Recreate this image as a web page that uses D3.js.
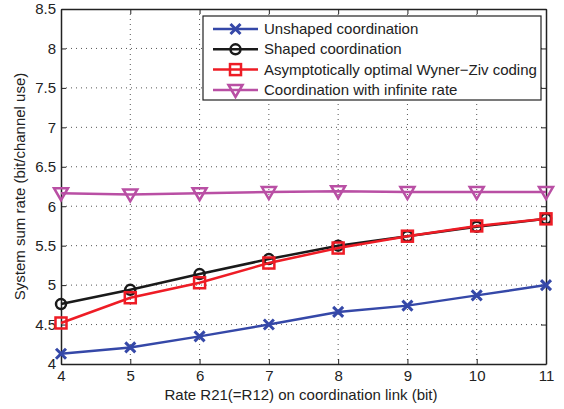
<!DOCTYPE html>
<html>
<head>
<meta charset="utf-8">
<script src="https://cdn.jsdelivr.net/npm/d3@7"></script>
<style>
  body { margin: 0; background: #fff; }
  svg text { font-family: "Liberation Sans", Arial, sans-serif; fill: #222; }
</style>
</head>
<body>
<svg id="chart" width="564" height="409"></svg>
<script>
// rate on the coordination link
const rates = [4, 5, 6, 7, 8, 9, 10, 11];
const unshaped = [4.13, 4.21, 4.35, 4.50, 4.66, 4.74, 4.87, 5.00];
const shaped = [4.76, 4.94, 5.14, 5.33, 5.50, 5.62, 5.74, 5.84];
const wynerZiv = [4.52, 4.84, 5.03, 5.28, 5.47, 5.62, 5.75, 5.84];
const infinite = [6.165, 6.15, 6.165, 6.18, 6.19, 6.18, 6.18, 6.18];
const yTicks = [4, 4.5, 5, 5.5, 6, 6.5, 7, 7.5, 8, 8.5];

const series = [
    {name: "Unshaped coordination", values: unshaped, color: "#3548a8", marker: "x"},
    {name: "Shaped coordination", values: shaped, color: "#1a1a1a", marker: "o"},
    {name: "Asymptotically optimal Wyner\u2212Ziv coding", values: wynerZiv, color: "#ee1c25", marker: "s"},
    {name: "Coordination with infinite rate", values: infinite, color: "#b94fa4", marker: "v"}
];

const svg = d3.select("#chart");
const pLeft = 61, pRight = 546, pTop = 9, pBottom = 364;

const x = d3.scaleLinear().domain([4, 11]).range([pLeft, pRight]);
const y = d3.scaleLinear().domain([4, 8.5]).range([pBottom, pTop]);

// dotted grid
const grid = svg.append("g").attr("stroke", "#555").attr("stroke-width", 1)
    .attr("stroke-dasharray", "1,4");
grid.selectAll(".gx").data(rates.slice(1, -1)).join("line")
    .attr("x1", d => x(d)).attr("x2", d => x(d)).attr("y1", pTop).attr("y2", pBottom);
grid.selectAll(".gy").data(yTicks.slice(1, -1)).join("line")
    .attr("y1", d => y(d)).attr("y2", d => y(d)).attr("x1", pLeft).attr("x2", pRight);

// axes, matlab style: inward ticks on all four sides
const fmt = d3.format("");
const axB = svg.append("g").attr("transform", `translate(0,${pBottom})`)
    .call(d3.axisBottom(x).tickValues(rates).tickFormat(fmt).tickSizeInner(-5).tickSizeOuter(0).tickPadding(6));
const axT = svg.append("g").attr("transform", `translate(0,${pTop})`)
    .call(d3.axisTop(x).tickValues(rates).tickFormat("").tickSizeInner(-5).tickSizeOuter(0));
const axL = svg.append("g").attr("transform", `translate(${pLeft},0)`)
    .call(d3.axisLeft(y).tickValues(yTicks).tickFormat(fmt).tickSizeInner(-5).tickSizeOuter(0).tickPadding(5));
const axR = svg.append("g").attr("transform", `translate(${pRight},0)`)
    .call(d3.axisRight(y).tickValues(yTicks).tickFormat("").tickSizeInner(-5).tickSizeOuter(0));
[axB, axT, axL, axR].forEach(a => {
    a.select(".domain").attr("stroke", "#222").attr("stroke-width", 1.5);
    a.selectAll(".tick line").attr("stroke", "#222");
    a.selectAll("text").attr("font-size", 15).attr("fill", "#222")
        .style("font-family", "Liberation Sans, Arial, sans-serif");
});

svg.append("text").attr("x", 301).attr("y", 400).attr("text-anchor", "middle")
    .attr("font-size", 15).text("Rate R21(=R12) on coordination link (bit)");
svg.append("text").attr("transform", `translate(25,${(pTop + pBottom) / 2}) rotate(-90)`)
    .attr("text-anchor", "middle").attr("font-size", 15).text("System sum rate (bit/channel use)");

function drawMarker(g, type, color) {
    if (type === "x") {
        g.append("path").attr("d", "M-5,-5L5,5M-5,5L5,-5").attr("stroke", color).attr("stroke-width", 3);
    } else if (type === "o") {
        g.append("circle").attr("r", 5).attr("fill", "none").attr("stroke", color).attr("stroke-width", 2.5);
    } else if (type === "s") {
        g.append("rect").attr("x", -5.5).attr("y", -5.5).attr("width", 11).attr("height", 11)
            .attr("fill", "none").attr("stroke", color).attr("stroke-width", 2.5);
    } else {
        g.append("path").attr("d", "M-7,-5L7,-5L0,7Z").attr("fill", "none")
            .attr("stroke", color).attr("stroke-width", 2.5);
    }
}

const line = d3.line().x((d, i) => x(rates[i])).y(d => y(d));
series.forEach(s => {
    svg.append("path").datum(s.values).attr("d", line).attr("fill", "none")
        .attr("stroke", s.color).attr("stroke-width", 2.5);
    s.values.forEach((v, i) => {
        drawMarker(svg.append("g").attr("transform", `translate(${x(rates[i])},${y(v)})`), s.marker, s.color);
    });
});

// legend
const lg = svg.append("g");
lg.append("rect").attr("x", 203).attr("y", 16).attr("width", 338).attr("height", 84)
    .attr("fill", "#fff").attr("stroke", "#222").attr("stroke-width", 1.2);
series.forEach((s, i) => {
    const ly = 29 + i * 20.3;
    lg.append("line").attr("x1", 213).attr("x2", 258).attr("y1", ly).attr("y2", ly)
        .attr("stroke", s.color).attr("stroke-width", 2.5);
    drawMarker(lg.append("g").attr("transform", `translate(235.5,${ly})`), s.marker, s.color);
    lg.append("text").attr("x", 264).attr("y", ly + 5).attr("font-size", 15).text(s.name);
});
</script>
</body>
</html>
